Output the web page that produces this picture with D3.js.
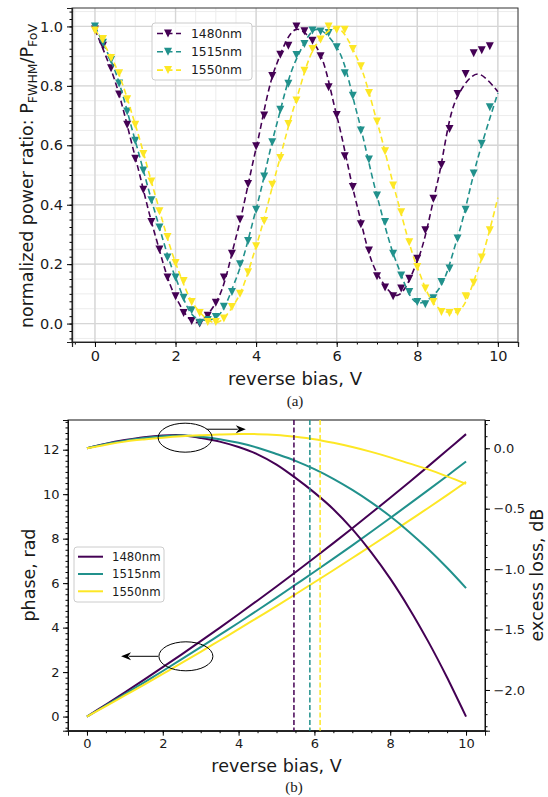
<!DOCTYPE html>
<html>
<head>
<meta charset="utf-8">
<title>power ratio and phase</title>
<script src="https://d3js.org/d3.v7.min.js"></script>
<style>
  body { margin: 0; background: #fff; }
  svg text { font-family: "DejaVu Sans", sans-serif; fill: #1a1a1a; }
  .caption { font-family: "Liberation Serif", serif !important; }
</style>
</head>
<body>
<div id="chart"></div>
<script>
// ---- data ----
var waves = ["1480nm", "1515nm", "1550nm"];
var colors = ["#440154", "#21918c", "#fde725"];

// (a) measured points, reverse bias 0 .. 9.8 V
var biasMeas = [0, 0.2, 0.4, 0.6, 0.8, 1.0, 1.2, 1.4, 1.6, 1.8, 2.0, 2.2, 2.4, 2.6, 2.8, 3.0, 3.2, 3.4, 3.6, 3.8,
  4.0, 4.2, 4.4, 4.6, 4.8, 5.0, 5.2, 5.4, 5.6, 5.8, 6.0, 6.2, 6.4, 6.6, 6.8, 7.0, 7.2, 7.4, 7.6, 7.8,
  8.0, 8.2, 8.4, 8.6, 8.8, 9.0, 9.2, 9.4, 9.6, 9.8];
var meas1480 = [0.99, 0.935, 0.859, 0.771, 0.669, 0.555, 0.45, 0.342, 0.249, 0.155, 0.092, 0.036, 0.009, 0.0, 0.026, 0.07, 0.155, 0.235, 0.35, 0.47,
  0.597, 0.70, 0.833, 0.905, 0.935, 1.0, 0.984, 0.952, 0.90, 0.795, 0.702, 0.563, 0.46, 0.334, 0.246, 0.159, 0.121, 0.092, 0.118, 0.151,
  0.218, 0.314, 0.42, 0.534, 0.655, 0.773, 0.84, 0.91, 0.92, 0.933];
var meas1515 = [1.0, 0.945, 0.887, 0.808, 0.714, 0.615, 0.515, 0.415, 0.323, 0.222, 0.155, 0.087, 0.045, 0.003, 0.012, 0.022, 0.057, 0.106, 0.2, 0.278,
  0.383, 0.495, 0.61, 0.72, 0.807, 0.904, 0.941, 0.986, 0.983, 0.978, 0.93, 0.842, 0.767, 0.65, 0.552, 0.431, 0.342, 0.235, 0.162, 0.106,
  0.073, 0.065, 0.085, 0.14, 0.185, 0.286, 0.383, 0.505, 0.605, 0.728];
var meas1550 = [0.986, 0.958, 0.894, 0.842, 0.755, 0.669, 0.571, 0.478, 0.378, 0.291, 0.204, 0.143, 0.073, 0.036, 0.005, 0.005, 0.017, 0.056, 0.1, 0.173,
  0.26, 0.345, 0.467, 0.557, 0.672, 0.751, 0.851, 0.924, 0.956, 1.0, 0.989, 0.989, 0.924, 0.866, 0.776, 0.68, 0.58, 0.465, 0.375, 0.274,
  0.19, 0.118, 0.073, 0.039, 0.036, 0.039, 0.092, 0.137, 0.222, 0.314];

// (a) fitted curves (dashed), 0 .. 10 V
var biasFit = [0, 0.5, 1, 1.5, 2, 2.5, 3, 3.5, 4, 4.5, 5, 5.5, 6, 6.5, 7, 7.5, 8, 8.5, 9, 9.5, 10];
var fit1480 = [0.99, 0.815, 0.56, 0.295, 0.09, 0.003, 0.07, 0.29, 0.59, 0.87, 0.99, 0.93, 0.70, 0.40, 0.17, 0.095, 0.21, 0.475, 0.765, 0.84, 0.78];
var fit1515 = [1.0, 0.85, 0.615, 0.37, 0.155, 0.02, 0.02, 0.15, 0.385, 0.665, 0.89, 0.99, 0.93, 0.71, 0.43, 0.2, 0.07, 0.11, 0.29, 0.555, 0.776];
var fit1550 = [0.99, 0.87, 0.67, 0.43, 0.205, 0.055, 0.003, 0.075, 0.26, 0.51, 0.755, 0.94, 0.995, 0.895, 0.68, 0.42, 0.19, 0.055, 0.04, 0.18, 0.424];

// (b) simulated phase (rad) and excess loss (dB), 0 .. 10 V
var biasSim = [0, 0.5, 1, 1.5, 2, 2.5, 3, 3.5, 4, 4.5, 5, 5.5, 6, 6.5, 7, 7.5, 8, 8.5, 9, 9.5, 10];
var phase1480 = [0, 0.54, 1.09, 1.65, 2.22, 2.8, 3.39, 3.99, 4.6, 5.22, 5.85, 6.49, 7.14, 7.8, 8.47, 9.15, 9.84, 10.54, 11.25, 11.97, 12.7];
var phase1515 = [0, 0.5, 1.01, 1.53, 2.05, 2.58, 3.12, 3.67, 4.22, 4.78, 5.35, 5.93, 6.51, 7.1, 7.7, 8.31, 8.93, 9.55, 10.18, 10.82, 11.47];
var phase1550 = [0, 0.47, 0.95, 1.43, 1.92, 2.41, 2.91, 3.42, 3.93, 4.45, 4.97, 5.5, 6.04, 6.58, 7.13, 7.68, 8.24, 8.81, 9.38, 9.96, 10.55];
var loss1480 = [0, 0.038, 0.068, 0.092, 0.106, 0.108, 0.085, 0.055, 0.01, -0.05, -0.135, -0.245, -0.367, -0.504, -0.669, -0.861, -1.079, -1.325, -1.598, -1.897, -2.22];
var loss1515 = [0, 0.035, 0.062, 0.085, 0.1, 0.105, 0.095, 0.075, 0.045, 0.005, -0.047, -0.104, -0.173, -0.253, -0.345, -0.448, -0.563, -0.692, -0.834, -0.989, -1.157];
var loss1550 = [0, 0.03, 0.055, 0.073, 0.088, 0.1, 0.108, 0.114, 0.118, 0.117, 0.11, 0.095, 0.075, 0.045, 0.01, -0.03, -0.075, -0.125, -0.175, -0.233, -0.295];
// bias where the phase reaches 2*pi
var biasPi2 = [5.46, 5.88, 6.15];

var svg = d3.select("#chart").append("svg")
  .attr("width", 548).attr("height", 797);

function range(a, b, s) { // tick positions
  var out = [];
  for (var v = a; v <= b + s / 1000; v += s) out.push(+v.toFixed(4));
  return out;
}

// ================= (a) =================
var xA = d3.scaleLinear().domain([-0.57, 10.5]).range([72, 518]);
var yA = d3.scaleLinear().domain([-0.062, 1.062]).range([342, 8]);
var gA = svg.append("g");

// grid
gA.selectAll(".vminor").data(range(-0.5, 10.5, 0.5)).enter().append("line")
  .attr("x1", function (d) { return xA(d); }).attr("x2", function (d) { return xA(d); })
  .attr("y1", 8).attr("y2", 342).attr("stroke", "#ececec").attr("stroke-width", 1);
gA.selectAll(".hminor").data(range(-0.05, 1.05, 0.05)).enter().append("line")
  .attr("y1", function (d) { return yA(d); }).attr("y2", function (d) { return yA(d); })
  .attr("x1", 72).attr("x2", 518).attr("stroke", "#ececec").attr("stroke-width", 1);
gA.selectAll(".vmajor").data(range(0, 10, 2)).enter().append("line")
  .attr("x1", function (d) { return xA(d); }).attr("x2", function (d) { return xA(d); })
  .attr("y1", 8).attr("y2", 342).attr("stroke", "#d6d6d6").attr("stroke-width", 1.4);
gA.selectAll(".hmajor").data(range(0, 1, 0.2)).enter().append("line")
  .attr("y1", function (d) { return yA(d); }).attr("y2", function (d) { return yA(d); })
  .attr("x1", 72).attr("x2", 518).attr("stroke", "#d6d6d6").attr("stroke-width", 1.4);

// frame
gA.append("rect").attr("x", 72).attr("y", 8).attr("width", 446).attr("height", 334)
  .attr("fill", "none").attr("stroke", "#333").attr("stroke-width", 1);

// axes
gA.append("g").attr("transform", "translate(0,342)")
  .call(d3.axisBottom(xA).tickValues(range(-0.5, 10.5, 0.5)).tickSize(2.5).tickFormat(""));
gA.append("g").attr("transform", "translate(0,342)")
  .call(d3.axisBottom(xA).tickValues(range(0, 10, 2)).tickSize(5).tickPadding(4).tickFormat(d3.format("d")))
  .selectAll("text").style("font-size", "14.5px");
gA.append("g").attr("transform", "translate(72,0)")
  .call(d3.axisLeft(yA).tickValues(range(-0.05, 1.05, 0.025)).tickSize(2.5).tickFormat(""));
gA.append("g").attr("transform", "translate(72,0)")
  .call(d3.axisLeft(yA).tickValues(range(0, 1, 0.2)).tickSize(5).tickPadding(4).tickFormat(d3.format(".1f")))
  .selectAll("text").style("font-size", "14.5px");
gA.selectAll(".domain").attr("stroke", "#222").attr("stroke-width", 1.2);

// data
var measSets = [meas1480, meas1515, meas1550];
var fitSets = [fit1480, fit1515, fit1550];
var tri = "M-4,-4L4,-4L0,4Z";
var fitLine = d3.line().curve(d3.curveCatmullRom.alpha(0.5))
  .x(function (d) { return xA(d[0]); }).y(function (d) { return yA(d[1]); });

waves.forEach(function (w, i) {
  gA.append("path")
    .datum(d3.zip(biasFit, fitSets[i]))
    .attr("d", fitLine)
    .attr("fill", "none").attr("stroke", colors[i]).attr("stroke-width", 1.6)
    .attr("stroke-dasharray", "6,3.5");
  gA.selectAll(".m" + i).data(d3.zip(biasMeas, measSets[i])).enter().append("path")
    .attr("d", tri)
    .attr("transform", function (d) { return "translate(" + xA(d[0]) + "," + yA(d[1]) + ")"; })
    .attr("fill", colors[i]);
});

// legend
var legA = gA.append("g");
legA.append("rect").attr("x", 152).attr("y", 23).attr("width", 100).attr("height", 57).attr("rx", 3)
  .attr("fill", "white").attr("fill-opacity", 0.85).attr("stroke", "#cccccc");
waves.forEach(function (w, i) {
  var yy = 33.5 + i * 18.3;
  legA.append("line").attr("x1", 157).attr("x2", 181).attr("y1", yy).attr("y2", yy)
    .attr("stroke", colors[i]).attr("stroke-width", 1.6).attr("stroke-dasharray", "6,3.5");
  legA.append("path").attr("d", tri).attr("transform", "translate(168," + yy + ")").attr("fill", colors[i]);
  legA.append("text").attr("x", 191).attr("y", yy + 4.3).style("font-size", "12.3px").text(w);
});

// labels
gA.append("text").attr("x", 295).attr("y", 385).attr("text-anchor", "middle")
  .style("font-size", "18px").text("reverse bias, V");
var yl = gA.append("text").attr("transform", "translate(33,176) rotate(-90)")
  .attr("text-anchor", "middle").style("font-size", "17.5px");
yl.append("tspan").text("normalized power ratio: P");
yl.append("tspan").attr("dy", 4).style("font-size", "12.5px").text("FWHM");
yl.append("tspan").attr("dy", -4).text("/P");
yl.append("tspan").attr("dy", 4).style("font-size", "12.5px").text("FoV");
gA.append("text").attr("class", "caption").attr("x", 295).attr("y", 406).attr("text-anchor", "middle")
  .style("font-size", "15px").text("(a)");

// ================= (b) =================
var xB = d3.scaleLinear().domain([-0.5, 10.5]).range([68, 485]);
var yB = d3.scaleLinear().domain([-0.635, 13.335]).range([730.7, 420]);
var yR = d3.scaleLinear().domain([-2.337, 0.234]).range([730.7, 420]);
var gB = svg.append("g");

gB.append("g").attr("transform", "translate(0,730.7)")
  .call(d3.axisBottom(xB).tickValues(range(-0.5, 10.5, 0.5)).tickSize(2.5).tickFormat(""));
gB.append("g").attr("transform", "translate(0,730.7)")
  .call(d3.axisBottom(xB).tickValues(range(0, 10, 2)).tickSize(5).tickPadding(3.5).tickFormat(d3.format("d")))
  .selectAll("text").style("font-size", "13px");
gB.append("g").attr("transform", "translate(68,0)")
  .call(d3.axisLeft(yB).tickValues(range(-0.5, 13.25, 0.25)).tickSize(2.5).tickFormat(""));
gB.append("g").attr("transform", "translate(68,0)")
  .call(d3.axisLeft(yB).tickValues(range(0, 12, 2)).tickSize(5).tickPadding(3.5).tickFormat(d3.format("d")))
  .selectAll("text").style("font-size", "13px");
gB.append("g").attr("transform", "translate(485,0)")
  .call(d3.axisRight(yR).tickValues(range(-2.3, 0.2, 0.1)).tickSize(2.5).tickFormat(""));
gB.append("g").attr("transform", "translate(485,0)")
  .call(d3.axisRight(yR).tickValues(range(-2, 0, 0.5)).tickSize(5).tickPadding(3.5).tickFormat(d3.format(".1f")))
  .selectAll("text").style("font-size", "13px");
gB.selectAll(".domain").attr("stroke", "#111").attr("stroke-width", 1);
gB.append("rect").attr("x", 68).attr("y", 420).attr("width", 417).attr("height", 310.7)
  .attr("fill", "none").attr("stroke", "#111").attr("stroke-width", 1);

var phaseSets = [phase1480, phase1515, phase1550];
var lossSets = [loss1480, loss1515, loss1550];
var smooth = d3.curveCatmullRom.alpha(0.5);
waves.forEach(function (w, i) {
  gB.append("path").datum(d3.zip(biasSim, phaseSets[i]))
    .attr("d", d3.line().curve(smooth).x(function (d) { return xB(d[0]); }).y(function (d) { return yB(d[1]); }))
    .attr("fill", "none").attr("stroke", colors[i]).attr("stroke-width", 2);
});
waves.forEach(function (w, i) {
  gB.append("path").datum(d3.zip(biasSim, lossSets[i]))
    .attr("d", d3.line().curve(smooth).x(function (d) { return xB(d[0]); }).y(function (d) { return yR(d[1]); }))
    .attr("fill", "none").attr("stroke", colors[i]).attr("stroke-width", 2);
});
waves.forEach(function (w, i) {
  gB.append("line").attr("x1", xB(biasPi2[i])).attr("x2", xB(biasPi2[i]))
    .attr("y1", 420).attr("y2", 730.7)
    .attr("stroke", colors[i]).attr("stroke-width", 1.5).attr("stroke-dasharray", "5,2.5");
});

// annotation ellipses and arrows
function arrow(x1, x2, y) {
  var dir = x2 > x1 ? 1 : -1;
  gB.append("line").attr("x1", x1).attr("x2", x2 - dir * 8).attr("y1", y).attr("y2", y)
    .attr("stroke", "#000").attr("stroke-width", 1);
  gB.append("path").attr("d", "M" + x2 + "," + y + "L" + (x2 - dir * 10) + "," + (y - 4) +
    "L" + (x2 - dir * 7) + "," + y + "L" + (x2 - dir * 10) + "," + (y + 4) + "Z").attr("fill", "#000");
}
gB.append("ellipse").attr("cx", xB(2.59)).attr("cy", yB(12.54)).attr("rx", 27).attr("ry", 14.5)
  .attr("fill", "none").attr("stroke", "#000").attr("stroke-width", 1);
arrow(xB(3.16), xB(4.19), yB(12.92));
gB.append("ellipse").attr("cx", xB(2.61)).attr("cy", yB(2.71)).attr("rx", 27).attr("ry", 14.5)
  .attr("fill", "none").attr("stroke", "#000").attr("stroke-width", 1);
arrow(xB(1.88), xB(0.9), yB(2.71));

// legend
var legB = gB.append("g");
legB.append("rect").attr("x", 74).attr("y", 547).attr("width", 90).attr("height", 55).attr("rx", 3)
  .attr("fill", "white").attr("fill-opacity", 0.85).attr("stroke", "#cccccc");
waves.forEach(function (w, i) {
  var yy = 556.7 + i * 17.3;
  legB.append("line").attr("x1", 78).attr("x2", 103).attr("y1", yy).attr("y2", yy)
    .attr("stroke", colors[i]).attr("stroke-width", 2);
  legB.append("text").attr("x", 112).attr("y", yy + 4.2).style("font-size", "11.7px").text(w);
});

gB.append("text").attr("x", 276.5).attr("y", 771.5).attr("text-anchor", "middle")
  .style("font-size", "17.5px").text("reverse bias, V");
gB.append("text").attr("transform", "translate(34.5,575) rotate(-90)").attr("text-anchor", "middle")
  .style("font-size", "17.5px").text("phase, rad");
gB.append("text").attr("transform", "translate(543,575) rotate(-90)").attr("text-anchor", "middle")
  .style("font-size", "17.5px").text("excess loss, dB");
gB.append("text").attr("class", "caption").attr("x", 294).attr("y", 792).attr("text-anchor", "middle")
  .style("font-size", "15px").text("(b)");
</script>
</body>
</html>
